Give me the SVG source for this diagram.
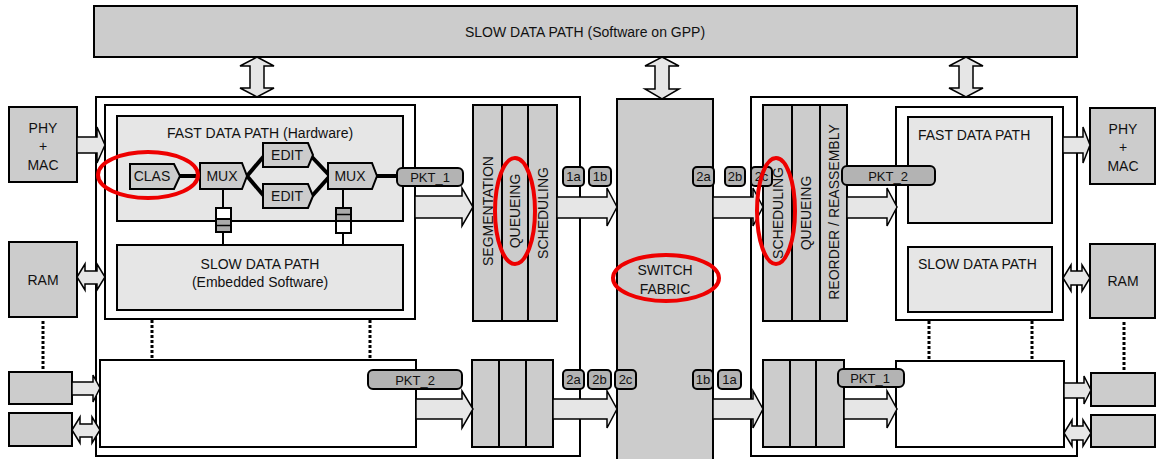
<svg xmlns="http://www.w3.org/2000/svg" width="1158" height="459" viewBox="0 0 1158 459">
<style>
text{font-family:"Liberation Sans",Arial,sans-serif;font-size:14px;fill:#111}
.c{text-anchor:middle}
.b{stroke:#000;stroke-width:2}
.g{fill:#cccccc}
.l{fill:#e6e6e6}
.w{fill:#ffffff}
.arr{fill:#e6e6e6;stroke:#000;stroke-width:1.5}
.tag{fill:#b3b3b3;stroke:#000;stroke-width:2}
.tt{font-size:13px;text-anchor:middle}
.dot{stroke:#000;stroke-width:3;stroke-dasharray:3 2;fill:none}
.red{fill:none;stroke:#ee0000;stroke-width:4}
.thick{stroke:#000;stroke-width:4;fill:none}
.thin{stroke:#000;stroke-width:2;fill:none}
.st{fill:#aaaaaa}
</style>

<!-- containers -->
<g id="gpp">
  <rect class="b g" x="94" y="6" width="983" height="51"/>
  <text class="c" x="585" y="37">SLOW DATA PATH (Software on GPP)</text>
</g>

<g id="ingress-card">
  <rect class="b w" x="96" y="97" width="484" height="359"/>
  <rect class="b w" x="105" y="105" width="310" height="214"/>
</g>

<g id="fast-path-in">
  <rect class="b l" x="117" y="116" width="286" height="105"/>
  <text class="c" x="260" y="138">FAST DATA PATH (Hardware)</text>
</g>

<g id="slow-path-in">
  <rect class="b l" x="117" y="245" width="286" height="65"/>
  <text class="c" x="260" y="269">SLOW DATA PATH</text>
  <text class="c" x="260" y="287">(Embedded Software)</text>
</g>

<g id="egress-card">
  <rect class="b w" x="751" y="97" width="326" height="359"/>
  <rect class="b w" x="896" y="107" width="167" height="213"/>
</g>

<g id="fast-path-out">
  <rect class="b l" x="908" y="117" width="144" height="106"/>
  <text x="918" y="140">FAST DATA PATH</text>
</g>
<g id="slow-path-out">
  <rect class="b l" x="908" y="247" width="144" height="65"/>
  <text x="918" y="269">SLOW DATA PATH</text>
</g>

<g id="lower-in">
  <rect class="b w" x="100" y="360" width="316" height="87"/>
</g>
<g id="lower-out">
  <rect class="b w" x="896" y="361" width="168" height="86"/>
</g>

<g id="phy-left">
  <rect class="b g" x="9" y="107" width="68" height="75"/>
  <text class="c" x="43" y="133">PHY</text>
  <text class="c" x="43" y="151">+</text>
  <text class="c" x="43" y="170">MAC</text>
</g>
<g id="ram-left">
  <rect class="b g" x="9" y="242" width="68" height="75"/>
  <text class="c" x="43" y="285">RAM</text>
</g>
<g id="port-left-1"><rect class="b g" x="9" y="372" width="63" height="32"/></g>
<g id="port-left-2"><rect class="b g" x="9" y="413" width="63" height="33"/></g>

<g id="phy-right">
  <rect class="b g" x="1090" y="108" width="65" height="76"/>
  <text class="c" x="1123" y="134">PHY</text>
  <text class="c" x="1123" y="152">+</text>
  <text class="c" x="1123" y="171">MAC</text>
</g>
<g id="ram-right">
  <rect class="b g" x="1090" y="244" width="65" height="74"/>
  <text class="c" x="1123" y="286">RAM</text>
</g>
<g id="port-right-1"><rect class="b g" x="1091" y="373" width="64" height="33"/></g>
<g id="port-right-2"><rect class="b g" x="1091" y="415" width="64" height="32"/></g>

<g id="switch-fabric">
  <rect class="b g" x="617" y="99" width="96" height="362"/>
  <text class="c" x="665" y="275">SWITCH</text>
  <text class="c" x="665" y="294">FABRIC</text>
</g>

<g id="seg-in">
  <rect class="b g" x="473" y="105" width="29" height="216"/>
  <rect class="b g" x="502" y="105" width="26" height="216"/>
  <rect class="b g" x="528" y="105" width="29" height="216"/>
  <text class="c" x="493" y="211" transform="rotate(-90 493 211)">SEGMENTATION</text>
  <text class="c" x="520" y="211" transform="rotate(-90 520 211)">QUEUEING</text>
  <text class="c" x="548" y="213" transform="rotate(-90 548 213)">SCHEDULING</text>
</g>

<g id="seg-out">
  <rect class="b g" x="763" y="105" width="29" height="216"/>
  <rect class="b g" x="792" y="105" width="28" height="216"/>
  <rect class="b g" x="820" y="105" width="27" height="216"/>
  <text class="c" x="783" y="213" transform="rotate(-90 783 213)">SCHEDULING</text>
  <text class="c" x="811" y="213" transform="rotate(-90 811 213)">QUEUEING</text>
  <text class="c" x="839" y="212" transform="rotate(-90 839 212)">REORDER / REASSEMBLY</text>
</g>

<g id="lower-seg-in">
  <rect class="b g" x="472" y="360" width="27" height="87"/>
  <rect class="b g" x="499" y="360" width="27" height="87"/>
  <rect class="b g" x="526" y="360" width="27" height="87"/>
</g>
<g id="lower-seg-out">
  <rect class="b g" x="763" y="360" width="27" height="87"/>
  <rect class="b g" x="790" y="360" width="26" height="87"/>
  <rect class="b g" x="816" y="360" width="28" height="87"/>
</g>

<!-- connectors -->
<g id="connectors">
  <!-- vertical double arrows from GPP -->
  <polygon class="arr" points="257,57 274,66 264,66 264,88 274,88 257,97 240,88 250,88 250,66 240,66"/>
  <polygon class="arr" points="662,57 679,66 669,66 669,89 679,89 662,99 645,89 655,89 655,66 645,66"/>
  <polygon class="arr" points="966,57 983,66 973,66 973,88 983,88 966,97 949,88 959,88 959,66 949,66"/>

  <!-- main flow arrows upper -->
  <polygon class="arr" points="415,196 462,196 462,188 473,207 462,226 462,218 415,218"/>
  <polygon class="arr" points="557,197 607,197 607,188 617,207 607,226 607,218 557,218"/>
  <polygon class="arr" points="713,197 753,197 753,188 763,207 753,226 753,218 713,218"/>
  <polygon class="arr" points="847,197 887,197 887,188 897,207 887,226 887,218 847,218"/>

  <!-- main flow arrows lower -->
  <polygon class="arr" points="416,399 462,399 462,391 473,409 462,428 462,419 416,419"/>
  <polygon class="arr" points="553,399 607,399 607,391 617,409 607,428 607,419 553,419"/>
  <polygon class="arr" points="713,399 753,399 753,391 763,409 753,428 753,419 713,419"/>
  <polygon class="arr" points="844,399 887,399 887,391 897,409 887,428 887,419 844,419"/>

  <!-- PHY arrows -->
  <polygon class="arr" points="77,137 97,137 97,127 105,145 97,163 97,153 77,153"/>
  <polygon class="arr" points="1063,137 1083,137 1083,127 1090,145 1083,163 1083,153 1063,153"/>
  <polygon class="arr" points="72,382 93,382 93,375 100,388 93,402 93,395 72,395"/>
  <polygon class="arr" points="1064,383 1084,383 1084,376 1091,390 1084,404 1084,398 1064,398"/>

  <!-- RAM / port double arrows -->
  <polygon class="arr" points="77,277 85,264 85,271 97,271 97,264 105,277 97,290 97,284 85,284 85,290"/>
  <polygon class="arr" points="1063,278 1071,265 1071,271 1082,271 1082,265 1090,278 1082,291 1082,285 1071,285 1071,291"/>
  <polygon class="arr" points="72,430 80,417 80,424 92,424 92,417 100,430 92,443 92,437 80,437 80,443"/>
  <polygon class="arr" points="1064,433 1072,420 1072,426 1083,426 1083,420 1091,433 1083,446 1083,440 1072,440 1072,446"/>

  <!-- dotted links -->
  <line class="dot" x1="43" y1="321" x2="43" y2="370"/>
  <line class="dot" x1="152" y1="320" x2="152" y2="360"/>
  <line class="dot" x1="370" y1="320" x2="370" y2="360"/>
  <line class="dot" x1="929" y1="321" x2="929" y2="361"/>
  <line class="dot" x1="1032" y1="321" x2="1032" y2="361"/>
  <line class="dot" x1="1124" y1="322" x2="1124" y2="372"/>

  <!-- fast path internal -->
  <line class="thick" x1="180" y1="176" x2="200" y2="176"/>
  <line class="thick" x1="247" y1="176" x2="264" y2="156"/>
  <line class="thick" x1="247" y1="176" x2="264" y2="196"/>
  <line class="thick" x1="312" y1="157" x2="329" y2="175"/>
  <line class="thick" x1="312" y1="196" x2="329" y2="177"/>
  <line class="thick" x1="377" y1="176" x2="397" y2="176"/>
  <line class="thin" x1="223" y1="189" x2="223" y2="245"/>
  <line class="thin" x1="343" y1="189" x2="343" y2="245"/>
</g>

<g id="clas">
  <polygon class="b g" points="130,164 174,164 180,176 174,189 130,189"/>
  <text class="c" x="152" y="181">CLAS</text>
</g>
<g id="mux1">
  <polygon class="b g" points="200,163 242,163 247,176 242,189 200,189"/>
  <text class="c" x="222" y="181">MUX</text>
</g>
<g id="edit1">
  <polygon class="b g" points="263,143 308,143 313,155 308,167 263,167"/>
  <text class="c" x="287" y="160">EDIT</text>
</g>
<g id="edit2">
  <polygon class="b g" points="263,184 308,184 313,196 308,208 263,208"/>
  <text class="c" x="287" y="201">EDIT</text>
</g>
<g id="mux2">
  <polygon class="b g" points="328,163 372,163 377,176 372,189 328,189"/>
  <text class="c" x="350" y="181">MUX</text>
</g>
<g id="fifo1">
  <rect class="b w" x="216" y="208" width="15" height="24"/>
  <rect class="st" x="217" y="220" width="13" height="5"/>
  <rect class="st" x="217" y="226" width="13" height="5"/>
  <line class="thin" x1="216" y1="219" x2="231" y2="219"/>
  <line x1="216" y1="225.5" x2="231" y2="225.5" stroke="#000" stroke-width="1.5"/>
</g>
<g id="fifo2">
  <rect class="b w" x="336" y="208" width="15" height="25"/>
  <rect class="st" x="337" y="209" width="13" height="5"/>
  <rect class="st" x="337" y="215" width="13" height="5"/>
  <line x1="336" y1="214.5" x2="351" y2="214.5" stroke="#000" stroke-width="1.5"/>
  <line class="thin" x1="336" y1="221" x2="351" y2="221"/>
</g>

<!-- tags -->
<g id="pkt1-in">
  <rect class="tag" x="397" y="168" width="66" height="18" rx="5"/>
  <text class="tt" x="430" y="182">PKT_1</text>
</g>
<g id="pkt2-out">
  <rect class="tag" x="842" y="166" width="93" height="19" rx="5"/>
  <text class="tt" x="888" y="181">PKT_2</text>
</g>
<g id="pkt2-in">
  <rect class="tag" x="368" y="370" width="94" height="19" rx="5"/>
  <text class="tt" x="415" y="385">PKT_2</text>
</g>
<g id="pkt1-out">
  <rect class="tag" x="838" y="369" width="66" height="18" rx="5"/>
  <text class="tt" x="870" y="383">PKT_1</text>
</g>
<g id="ports">
  <rect class="tag" x="563" y="167" width="21" height="19" rx="4"/><text class="tt" x="573.5" y="181">1a</text>
  <rect class="tag" x="589" y="167" width="22" height="19" rx="4"/><text class="tt" x="600" y="181">1b</text>
  <rect class="tag" x="693" y="167" width="21" height="19" rx="4"/><text class="tt" x="703.5" y="181">2a</text>
  <rect class="tag" x="725" y="167" width="20" height="19" rx="4"/><text class="tt" x="735" y="181">2b</text>
  <rect class="tag" x="751" y="167" width="21" height="19" rx="4"/><text class="tt" x="761.5" y="181">2c</text>
  <rect class="tag" x="563" y="370" width="21" height="19" rx="4"/><text class="tt" x="573.5" y="384">2a</text>
  <rect class="tag" x="588" y="370" width="23" height="19" rx="4"/><text class="tt" x="599.5" y="384">2b</text>
  <rect class="tag" x="615" y="370" width="21" height="19" rx="4"/><text class="tt" x="625.5" y="384">2c</text>
  <rect class="tag" x="693" y="370" width="20" height="19" rx="4"/><text class="tt" x="703" y="384">1b</text>
  <rect class="tag" x="718" y="370" width="23" height="19" rx="4"/><text class="tt" x="729.5" y="384">1a</text>
</g>

<g id="highlights">
  <ellipse class="red" cx="148" cy="175" rx="50" ry="23"/>
  <ellipse class="red" cx="515" cy="211" rx="20" ry="53"/>
  <ellipse class="red" cx="666" cy="278" rx="53" ry="23"/>
  <ellipse class="red" cx="776" cy="211" rx="19" ry="53"/>
</g>
</svg>
